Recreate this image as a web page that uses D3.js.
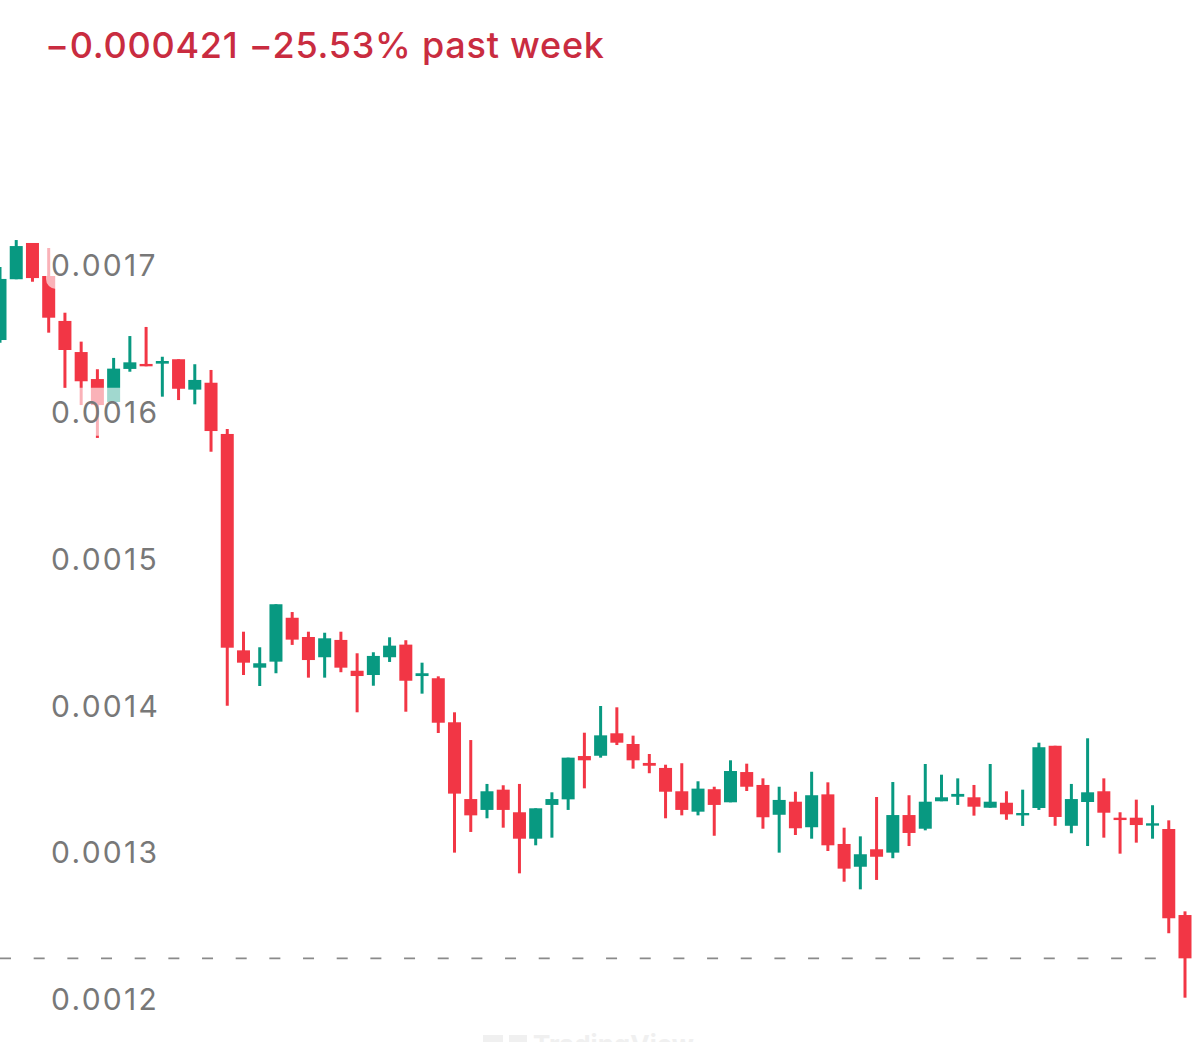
<!DOCTYPE html>
<html>
<head>
<meta charset="utf-8">
<script src="https://cdn.jsdelivr.net/npm/d3@7"></script>
<style>
  html, body { margin: 0; padding: 0; background: #fff; }
  svg { display: block; }
  text { font-family: Inter, "Noto Sans", sans-serif; }
</style>
</head>
<body>
<svg id="chart" width="1200" height="1042"></svg>
<script>
const headline = "\u22120.000421 \u221225.53% past week";
const watermark = "TradingView";
const tickValues = [0.0017, 0.0016, 0.0015, 0.0014, 0.0013, 0.0012];

const opens = [
  0.0016489, 0.0016903, 0.0017150, 0.0016925, 0.0016619, 0.0016407, 0.0016223, 0.0016067, 0.0016292, 0.0016326,
  0.0016328, 0.0016358, 0.0016151, 0.0016198, 0.0015849, 0.0014375, 0.0014257, 0.0014298, 0.0014597, 0.0014466,
  0.0014328, 0.0014446, 0.0014236, 0.0014207, 0.0014328, 0.0014414, 0.0014200, 0.0014185, 0.0013885, 0.0013362,
  0.0013288, 0.0013426, 0.0013272, 0.0013092, 0.0013322, 0.0013360, 0.0013655, 0.0013657, 0.0013810, 0.0013737,
  0.0013608, 0.0013574, 0.0013415, 0.0013276, 0.0013429, 0.0013340, 0.0013546, 0.0013458, 0.0013255, 0.0013344,
  0.0013170, 0.0013394, 0.0013056, 0.0012901, 0.0013020, 0.0012997, 0.0013253, 0.0013160, 0.0013347, 0.0013378,
  0.0013374, 0.0013303, 0.0013337, 0.0013251, 0.0013301, 0.0013725, 0.0013180, 0.0013342, 0.0013415, 0.0013235,
  0.0013235, 0.0013181, 0.0013158, 0.0012572
];
const closes = [
  0.0016905, 0.0017129, 0.0016911, 0.0016641, 0.0016421, 0.0016208, 0.0016046, 0.0016294, 0.0016337, 0.0016310,
  0.0016346, 0.0016157, 0.0016217, 0.0015869, 0.0014393, 0.0014291, 0.0014287, 0.0014689, 0.0014448, 0.0014309,
  0.0014457, 0.0014257, 0.0014200, 0.0014337, 0.0014407, 0.0014168, 0.0014219, 0.0013882, 0.0013399, 0.0013251,
  0.0013415, 0.0013288, 0.0013092, 0.0013299, 0.0013362, 0.0013644, 0.0013626, 0.0013796, 0.0013746, 0.0013626,
  0.0013589, 0.0013412, 0.0013288, 0.0013433, 0.0013322, 0.0013553, 0.0013446, 0.0013238, 0.0013356, 0.0013163,
  0.0013388, 0.0013047, 0.0012888, 0.0012986, 0.0012969, 0.0013253, 0.0013131, 0.0013344, 0.0013374, 0.0013397,
  0.0013310, 0.0013344, 0.0013258, 0.0013267, 0.0013715, 0.0013240, 0.0013362, 0.0013408, 0.0013269, 0.0013219,
  0.0013185, 0.0013197, 0.0012550, 0.0012277
];
const highs = [
  0.0016986, 0.0017170, 0.0017150, 0.0017116, 0.0016675, 0.0016478, 0.0016290, 0.0016367, 0.0016516, 0.0016578,
  0.0016375, 0.0016358, 0.0016324, 0.0016285, 0.0015883, 0.0014502, 0.0014396, 0.0014689, 0.0014636, 0.0014502,
  0.0014495, 0.0014502, 0.0014355, 0.0014362, 0.0014464, 0.0014444, 0.0014291, 0.0014198, 0.0013953, 0.0013764,
  0.0013465, 0.0013456, 0.0013465, 0.0013299, 0.0013408, 0.0013644, 0.0013814, 0.0013996, 0.0013987, 0.0013794,
  0.0013669, 0.0013596, 0.0013606, 0.0013483, 0.0013446, 0.0013626, 0.0013603, 0.0013503, 0.0013446, 0.0013412,
  0.0013548, 0.0013476, 0.0013167, 0.0013108, 0.0013376, 0.0013478, 0.0013388, 0.0013601, 0.0013528, 0.0013503,
  0.0013458, 0.0013601, 0.0013415, 0.0013426, 0.0013746, 0.0013725, 0.0013465, 0.0013776, 0.0013503, 0.0013272,
  0.0013358, 0.0013320, 0.0013217, 0.0012597
];
const lows = [
  0.0016471, 0.0016903, 0.0016886, 0.0016539, 0.0016162, 0.0016046, 0.0015822, 0.0016067, 0.0016273, 0.0016310,
  0.0016103, 0.0016080, 0.0016051, 0.0015728, 0.0013998, 0.0014207, 0.0014132, 0.0014219, 0.0014412, 0.0014189,
  0.0014189, 0.0014226, 0.0013953, 0.0014134, 0.0014296, 0.0013957, 0.0014080, 0.0013812, 0.0012997, 0.0013138,
  0.0013231, 0.0013167, 0.0012856, 0.0013047, 0.0013099, 0.0013288, 0.0013435, 0.0013644, 0.0013730, 0.0013569,
  0.0013538, 0.0013231, 0.0013251, 0.0013251, 0.0013112, 0.0013340, 0.0013417, 0.0013160, 0.0012997, 0.0013117,
  0.0013092, 0.0013008, 0.0012799, 0.0012747, 0.0012811, 0.0012959, 0.0013042, 0.0013149, 0.0013347, 0.0013322,
  0.0013249, 0.0013303, 0.0013221, 0.0013179, 0.0013288, 0.0013180, 0.0013129, 0.0013042, 0.0013099, 0.0012990,
  0.0013065, 0.0013092, 0.0012448, 0.0012009
];

const upColor = "#089981";
const downColor = "#f23645";
const labelColor = "#787878";
const titleColor = "#c92c40";

const svg = d3.select("#chart");

const yScale = d3.scaleLinear().domain([0.0012, 0.0017]).range([999, 265]);
const xScale = d3.scaleLinear().domain([0, opens.length - 1]).range([0, 1185]);

//Watermark sits behind everything, cut off by the bottom of the picture
const logo = svg.append("g").attr("fill", "#f0f0f0");
logo.append("rect").attr("x", 483).attr("y", 1035).attr("width", 20).attr("height", 12);
logo.append("rect").attr("x", 509).attr("y", 1035).attr("width", 18).attr("height", 12);
svg.append("text")
  .attr("x", 533)
  .attr("y", 1054)
  .attr("font-size", 26)
  .attr("font-weight", 700)
  .attr("fill", "#f0f0f0")
  .text(watermark);

//Last price line
svg.append("line")
  .attr("x1", 0)
  .attr("x2", 1160)
  .attr("y1", yScale(closes[closes.length - 1]))
  .attr("y2", yScale(closes[closes.length - 1]))
  .attr("stroke", "#8a8a8a")
  .attr("stroke-width", 1.6)
  .attr("stroke-dasharray", "11 22.67");

//Candles
const candles = svg.append("g").classed("candles", true)
  .selectAll("g")
  .data(opens.map((o, i) => ({ open: o, close: closes[i], high: highs[i], low: lows[i], i: i })))
  .enter()
  .append("g")
  .attr("fill", d => d.close >= d.open ? upColor : downColor)
  .attr("stroke", d => d.close >= d.open ? upColor : downColor);

candles.append("line")
  .attr("x1", d => xScale(d.i))
  .attr("x2", d => xScale(d.i))
  .attr("y1", d => yScale(d.high))
  .attr("y2", d => yScale(d.low))
  .attr("stroke-width", 3);

candles.append("rect")
  .attr("x", d => xScale(d.i) - 6.5)
  .attr("width", 13)
  .attr("y", d => yScale(Math.max(d.open, d.close)))
  .attr("height", d => Math.abs(yScale(d.open) - yScale(d.close)))
  .attr("stroke", "none");

//Axis labels with their translucent plates, on top of the candles
svg.append("g")
  .selectAll("rect")
  .data(tickValues)
  .enter()
  .append("rect")
  .attr("x", 46)
  .attr("y", d => yScale(d) - 24)
  .attr("width", 115)
  .attr("height", 48)
  .attr("rx", 10)
  .attr("fill", "#fff")
  .attr("fill-opacity", 0.62);

const yAxis = svg.append("g")
  .attr("transform", "translate(51,1)")
  .call(d3.axisRight(yScale).tickValues(tickValues).tickFormat(d3.format(".4f")).tickSize(0).tickPadding(0));
yAxis.select(".domain").remove();
yAxis.selectAll("text")
  .attr("font-family", "Inter, 'Noto Sans', sans-serif")
  .attr("font-size", 30)
  .attr("letter-spacing", 2.3)
  .attr("fill", labelColor);

//Headline
svg.append("text")
  .attr("x", 45)
  .attr("y", 58)
  .attr("font-size", 36)
  .attr("letter-spacing", 0.75)
  .attr("font-weight", 500)
  .attr("fill", titleColor)
  .text(headline);
</script>
</body>
</html>
